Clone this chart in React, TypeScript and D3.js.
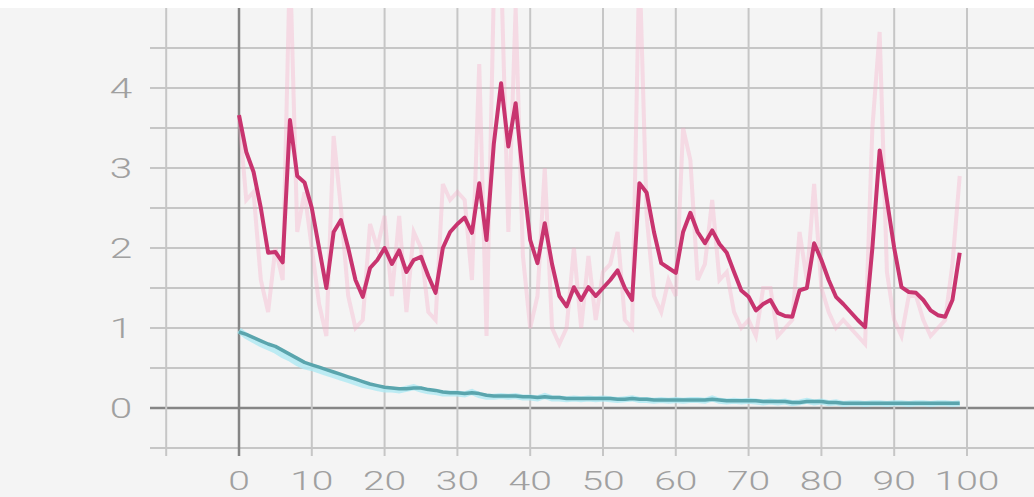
import React from "react";
import * as d3 from "d3";

// Training steps 0..99
const steps: number[] = d3.range(0, 100);

// Loss (smoothed) per step
const lossSmooth: number[] = [
  3.66, 3.2, 2.95, 2.5, 1.94, 1.95, 1.82, 3.6, 2.9, 2.82,
  2.5, 2.0, 1.5, 2.2, 2.35, 2.0, 1.6, 1.39, 1.75, 1.85,
  2.0, 1.8, 1.97, 1.7, 1.85, 1.89, 1.65, 1.44, 2.0, 2.2,
  2.3, 2.38, 2.19, 2.81, 2.1, 3.3, 4.06, 3.27, 3.81, 2.9,
  2.1, 1.81, 2.31, 1.8, 1.4, 1.27, 1.51, 1.35, 1.51, 1.4,
  1.5, 1.6, 1.72, 1.5, 1.35, 2.81, 2.69, 2.2, 1.81, 1.75,
  1.69, 2.2, 2.44, 2.2, 2.06, 2.22, 2.05, 1.94, 1.7, 1.47,
  1.39, 1.22, 1.3, 1.35, 1.19, 1.15, 1.14, 1.47, 1.5, 2.06,
  1.85, 1.6, 1.39, 1.3, 1.2, 1.1, 1.01, 2.0, 3.22, 2.6,
  2.0, 1.51, 1.45, 1.44, 1.35, 1.22, 1.16, 1.14, 1.35, 1.94,
];

// Loss (raw) per step
const lossRaw: number[] = [
  3.66, 2.6, 2.7, 1.6, 1.2, 2.0, 1.6, 5.6, 2.2, 2.7,
  2.0, 1.3, 0.9, 3.4, 2.5, 1.4, 1.0, 1.1, 2.3, 2.0,
  2.4, 1.4, 2.4, 1.2, 2.2, 2.0, 1.2, 1.1, 2.8, 2.6,
  2.7, 2.6, 1.6, 4.3, 0.9, 5.2, 5.5, 2.2, 5.0, 1.9,
  1.0, 1.4, 3.0, 1.0, 0.8, 1.0, 2.0, 1.0, 1.9, 1.1,
  1.7, 1.8, 2.2, 1.1, 1.0, 5.6, 2.4, 1.4, 1.2, 1.6,
  1.4, 3.5, 3.1, 1.6, 1.8, 2.6, 1.6, 1.7, 1.2, 1.0,
  1.1, 0.9, 1.5, 1.5, 0.9, 1.0, 1.1, 2.2, 1.6, 2.8,
  1.5, 1.2, 1.0, 1.1, 1.0, 0.9, 0.8, 3.5, 4.7, 1.7,
  1.1, 0.9, 1.4, 1.4, 1.1, 0.9, 1.0, 1.1, 1.8, 2.9,
];

// Decaying curve (smoothed)
const decaySmooth: number[] = [
  0.95, 0.92, 0.88, 0.84, 0.8, 0.77, 0.72, 0.67, 0.62, 0.57,
  0.54, 0.51, 0.48, 0.45, 0.42, 0.39, 0.36, 0.33, 0.3, 0.28,
  0.26, 0.25, 0.24, 0.24, 0.25, 0.25, 0.23, 0.22, 0.2, 0.19,
  0.19, 0.18, 0.19, 0.18, 0.16, 0.15, 0.15, 0.15, 0.15, 0.14,
  0.14, 0.13, 0.14, 0.13, 0.13, 0.12, 0.12, 0.12, 0.12, 0.12,
  0.12, 0.12, 0.11, 0.11, 0.12, 0.11, 0.11, 0.1, 0.1, 0.1,
  0.1, 0.1, 0.1, 0.1, 0.1, 0.11, 0.1, 0.09, 0.09, 0.09,
  0.09, 0.09, 0.08, 0.08, 0.08, 0.08, 0.07, 0.07, 0.08, 0.08,
  0.08, 0.07, 0.07, 0.06, 0.06, 0.06, 0.06, 0.06, 0.06, 0.06,
  0.06, 0.06, 0.06, 0.06, 0.06, 0.06, 0.06, 0.06, 0.06, 0.06,
];

// Decaying curve (raw)
const decayRaw: number[] = [
  0.97, 0.9, 0.85, 0.8, 0.76, 0.72, 0.66, 0.62, 0.56, 0.52,
  0.5, 0.47, 0.44, 0.41, 0.38, 0.35, 0.32, 0.29, 0.27, 0.25,
  0.23, 0.23, 0.22, 0.24, 0.26, 0.23, 0.21, 0.2, 0.18, 0.18,
  0.18, 0.17, 0.2, 0.16, 0.14, 0.14, 0.15, 0.14, 0.15, 0.13,
  0.13, 0.12, 0.15, 0.12, 0.12, 0.11, 0.12, 0.11, 0.12, 0.11,
  0.12, 0.11, 0.1, 0.11, 0.12, 0.1, 0.1, 0.09, 0.1, 0.09,
  0.1, 0.09, 0.1, 0.1, 0.09, 0.12, 0.09, 0.08, 0.09, 0.08,
  0.09, 0.08, 0.07, 0.08, 0.07, 0.08, 0.06, 0.07, 0.09, 0.07,
  0.08, 0.06, 0.07, 0.05, 0.06, 0.06, 0.05, 0.06, 0.06, 0.05,
  0.06, 0.06, 0.05, 0.06, 0.06, 0.05, 0.06, 0.06, 0.05, 0.06,
];

const xTicks: number[] = [0, 10, 20, 30, 40, 50, 60, 70, 80, 90, 100];
const xGrid: number[] = [-10, 0, 10, 20, 30, 40, 50, 60, 70, 80, 90, 100, 110];
const yTicks: number[] = [0, 1, 2, 3, 4];
const yGrid: number[] = [-0.5, 0, 0.5, 1, 1.5, 2, 2.5, 3, 3.5, 4, 4.5];

const W = 1034;
const H = 497;

export default function App() {
  const x = d3.scaleLinear().domain([0, 100]).range([239, 967]);
  const y = d3.scaleLinear().domain([0, 4]).range([408, 88]);

  const plotTop = 8;
  const plotBottom = 456;
  const gridLeft = 150;

  const line = (vals: number[]) =>
    d3
      .line<number>()
      .x((_, i) => x(steps[i]))
      .y((v) => y(v))(vals) as string;

  const labelColor = "#a0a0a0";

  return (
    <svg
      width={W}
      height={H}
      style={{ position: "absolute", left: 0, top: 0, display: "block" }}
    >
      <defs>
        <clipPath id="plot-clip">
          <rect x={gridLeft} y={plotTop} width={W - gridLeft} height={plotBottom - plotTop} />
        </clipPath>
      </defs>
      <rect x={0} y={0} width={W} height={H} fill="#f4f4f4" />
      <rect x={0} y={0} width={W} height={plotTop} fill="#ffffff" />

      {/* grid */}
      {yGrid.map((v) => (
        <line
          key={"h" + v}
          x1={gridLeft}
          x2={W}
          y1={y(v)}
          y2={y(v)}
          stroke={v === 0 ? "#858585" : "#c6c6c6"}
          strokeWidth={v === 0 ? 2.5 : 2}
        />
      ))}
      {xGrid.map((v) => (
        <line
          key={"v" + v}
          x1={x(v)}
          x2={x(v)}
          y1={plotTop}
          y2={plotBottom}
          stroke={v === 0 ? "#858585" : "#c6c6c6"}
          strokeWidth={v === 0 ? 2.5 : 2}
        />
      ))}

      <g clipPath="url(#plot-clip)">
        {/* raw traces */}
        <path d={line(decayRaw)} fill="none" stroke="#aee9f2" strokeWidth={6} strokeOpacity={0.8} />
        <path d={line(lossRaw)} fill="none" stroke="#f7a8c6" strokeWidth={4} strokeOpacity={0.35} />
        {/* smoothed traces */}
        <path d={line(decaySmooth)} fill="none" stroke="#5aa5ad" strokeWidth={3.5} strokeLinejoin="round" />
        <path d={line(lossSmooth)} fill="none" stroke="#c8346f" strokeWidth={4} strokeLinejoin="round" />
      </g>

      {/* y tick labels */}
      {yTicks.map((v) => (
        <text
          key={"yl" + v}
          transform={`translate(121, ${y(v) + 10}) scale(1.5, 1)`}
          textAnchor="middle"
          fontFamily="Roboto, 'DejaVu Sans', sans-serif"
          fontWeight={300}
          fontSize={27}
          fill={labelColor}
        >
          {v}
        </text>
      ))}

      {/* x tick labels */}
      {xTicks.map((v) => (
        <text
          key={"xl" + v}
          transform={`translate(${x(v)}, 490) scale(1.5, 1)`}
          textAnchor="middle"
          fontFamily="Roboto, 'DejaVu Sans', sans-serif"
          fontWeight={300}
          fontSize={26}
          fill={labelColor}
        >
          {v}
        </text>
      ))}
    </svg>
  );
}
